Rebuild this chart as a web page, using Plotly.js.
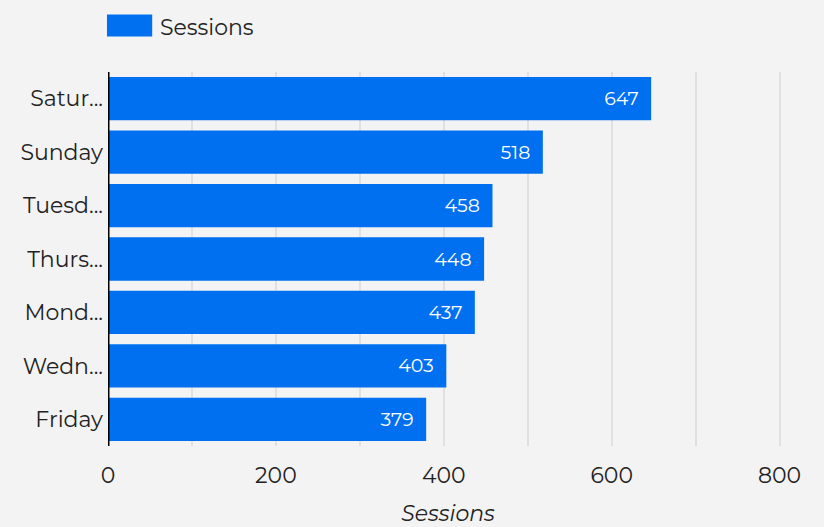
<!DOCTYPE html>
<html>
<head>
<meta charset="utf-8">
<script src="https://cdn.plot.ly/plotly-3.0.1.min.js"></script>
<style>
  html, body { margin: 0; padding: 0; background: #f3f3f3; }
  #chart { width: 824px; height: 527px; }
</style>
</head>
<body>
<div id="chart"></div>
<script>
// Sessions per weekday, largest first (top to bottom)
const days = ["Saturday", "Sunday", "Tuesday", "Thursday", "Monday", "Wednesday", "Friday"];
const dayLabels = ["Satur...", "Sunday", "Tuesd...", "Thurs...", "Mond...", "Wedn...", "Friday"];
const sessions = [647, 518, 458, 448, 437, 403, 379];
const xTicks = [0, 200, 400, 600, 800];

const FONT = "Montserrat, 'Open Sans', sans-serif";
const BLUE = "#0070F0";
const INK = "#222222";

const trace = {
  type: "bar",
  orientation: "h",
  name: "Sessions",
  y: days,
  x: sessions,
  marker: { color: BLUE },
  text: sessions.map(v => String(v) + "\u2002"),
  textposition: "inside",
  insidetextanchor: "end",
  textfont: { color: "#ffffff", size: 19, family: FONT },
  hoverinfo: "x+y",
  showlegend: false
};

const layout = {
  width: 824,
  height: 527,
  paper_bgcolor: "#f3f3f3",
  plot_bgcolor: "#f3f3f3",
  margin: { l: 108, r: 36, t: 72, b: 81 },
  font: { family: FONT, color: INK, size: 22 },
  bargap: 0.19,
  xaxis: {
    range: [0, 810],
    tickvals: xTicks,
    ticktext: xTicks.map(String),
    showgrid: true,
    gridcolor: "#e0e0e0",
    gridwidth: 2,
    minor: { dtick: 100, showgrid: true, gridcolor: "#e0e0e0", gridwidth: 2 },
    zeroline: false,
    showline: false,
    ticks: "",
    ticklabelstandoff: 14,
    tickfont: { size: 22, color: INK },
    title: { text: "<i>Sessions</i>", font: { size: 22, color: INK }, standoff: 18 }
  },
  yaxis: {
    type: "category",
    categoryorder: "array",
    categoryarray: days.slice().reverse(),
    tickvals: days,
    ticktext: dayLabels,
    showgrid: false,
    zeroline: false,
    showline: false,
    ticks: "",
    ticklabelstandoff: 4,
    tickfont: { size: 22, color: INK }
  },
  shapes: [
    // vertical baseline at zero
    { type: "line", xref: "x", yref: "paper", x0: 0, x1: 0, y0: 0, y1: 1,
      line: { color: "#000000", width: 3 } },
    // legend swatch
    { type: "rect", xref: "paper", yref: "paper",
      x0: -0.0015, x1: 0.065, y0: 1.095, y1: 1.154,
      fillcolor: BLUE, line: { width: 0 } }
  ],
  annotations: [
    { xref: "paper", yref: "paper", x: 0.074, y: 1.12, xanchor: "left", yanchor: "middle",
      text: "Sessions", showarrow: false, font: { size: 22, color: INK } }
  ]
};

Plotly.newPlot("chart", [trace], layout, { displayModeBar: false, staticPlot: true });
</script>
</body>
</html>
